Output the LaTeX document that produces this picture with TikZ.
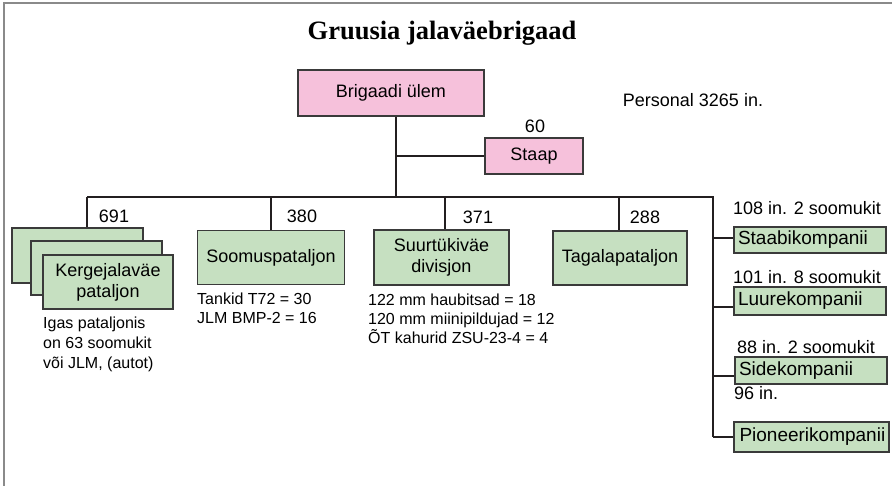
\documentclass[tikz,border=0pt]{standalone}
\usepackage{fontspec}
\setmainfont{Liberation Serif}
\setsansfont{Liberation Sans}
\definecolor{linec}{HTML}{231F20}
\definecolor{boxline}{HTML}{3A3A3A}
\definecolor{gfill}{HTML}{C6E0C1}
\definecolor{pfill}{HTML}{F6C1DB}
\definecolor{framec}{HTML}{8A8A8A}
\newcommand{\fsz}[2]{\fontsize{#1}{#2}\selectfont}
\tikzset{
  orgbox/.style={draw=boxline, line width=1.3, inner sep=0pt, align=center, font={\sffamily\fsz{18}{21}}},
  gbox/.style={orgbox, fill=gfill},
  pbox/.style={orgbox, fill=pfill},
  rbox/.style={gbox, minimum width=152, text width=144, align=left, font={\sffamily\fsz{19}{22}}},
  conn/.style={draw=linec, line width=2},
  lbl/.style={inner sep=0pt, font={\sffamily\fsz{18}{21}}},
  note/.style={inner sep=0pt, anchor=north west, align=left, font={\sffamily\fsz{16}{19}}},
}
\begin{document}
\begin{tikzpicture}[x=1pt,y=-1pt]
\useasboundingbox (0,0) rectangle (892,486);
\draw[framec, line width=2] (4,500) -- (4,3) -- (900,3);
\node[font={\bfseries\fsz{26.5}{30}}, inner sep=0pt] (title) at (442,33) {Gruusia jalaväebrigaad};
\node[pbox, minimum width=186, minimum height=46, text depth=5pt] (ulem) at (391,93) {Brigaadi ülem};
\node[pbox, minimum width=98, minimum height=36] (staap) at (534,156) {Staap};
\node[lbl] (n60) at (535,126) {60};
\node[lbl] (pers) at (693,100) {Personal 3265 in.};
\coordinate (j) at (396,197);
\coordinate (js) at (396,156);
\coordinate (bl) at (87,197);
\coordinate (br) at (713,197);
\coordinate (bend) at (713,437);
\draw[conn] (ulem.south -| j) -- (j);
\draw[conn] (js) -- (staap.west);
\draw[conn] (bl) -- (br) -- (bend);
% stacked battalion
\node[gbox, minimum width=131, minimum height=55] (k3) at (77.5,255.5) {};
\node[gbox, minimum width=131, minimum height=54] (k2) at (96.5,268) {};
\node[gbox, minimum width=130, minimum height=54] (k1) at (108,282) {Kergejalaväe\\pataljon};
\node[gbox, minimum width=147, minimum height=54] (soom) at (271,257.5) {Soomuspataljon};
\node[gbox, minimum width=135, minimum height=55] (suur) at (441.5,257.5) {Suurtükiväe\\divisjon};
\node[gbox, minimum width=134, minimum height=54] (taga) at (620,258) {Tagalapataljon};
\coordinate (d2) at (271,197);
\coordinate (d3) at (445,197);
\coordinate (d4) at (619,197);
\draw[conn] (bl) -- (bl |- k3.north);
\draw[conn] (d2) -- (d2 |- soom.north);
\draw[conn] (d3) -- (d3 |- suur.north);
\draw[conn] (d4) -- (d4 |- taga.north);
\node[lbl] (c691) at (114,216) {691};
\node[lbl] (c380) at (302,216) {380};
\node[lbl] (c371) at (478,217) {371};
\node[lbl] (c288) at (645,217) {288};
\node[note, font={\sffamily\fsz{16}{20}}] (nk) at (43,317) {Igas pataljonis\\on 63 soomukit\\või JLM, (autot)};
\node[note] (ns) at (197,293) {Tankid T72 = 30\\JLM BMP-2 = 16};
\node[note] (nt) at (368,294) {122 mm haubitsad = 18\\120 mm miinipildujad = 12\\ÕT kahurid ZSU-23-4 = 4};
% right column
\node[rbox, minimum height=26] (stab) at (810,240) {Staabikompanii};
\node[rbox, minimum height=28] (luur) at (810,301) {Luurekompanii};
\node[rbox, minimum height=27] (side) at (811,370.5) {Sidekompanii};
\node[rbox, minimum height=30, minimum width=155] (pion) at (811.5,437) {Pioneerikompanii};
\node[lbl, anchor=west] (l108) at (733,208) {108 in. 2 soomukit};
\node[lbl, anchor=west] (l101) at (733,277) {101 in. 8 soomukit};
\node[lbl, anchor=west] (l88) at (737,347) {88 in. 2 soomukit};
\node[lbl, anchor=west] (l96) at (734,393) {96 in.};
\coordinate (r1) at (713,238);
\coordinate (r2) at (713,307);
\coordinate (r3) at (713,376);
\draw[conn] (r1) -- (r1 -| stab.west);
\draw[conn] (r2) -- (r2 -| luur.west);
\draw[conn] (r3) -- (r3 -| side.west);
\draw[conn] (bend) -- (pion.west);
\end{tikzpicture}
\end{document}
